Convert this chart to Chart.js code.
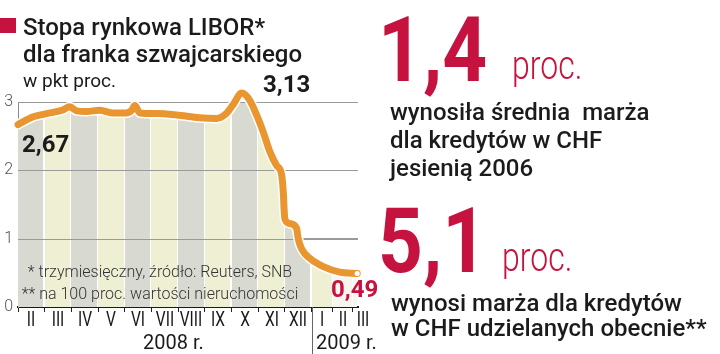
<!DOCTYPE html>
<html>
<head>
<meta charset="utf-8">
<script src="https://cdn.jsdelivr.net/npm/chart.js@4.4.1/dist/chart.umd.min.js"></script>
<style>
body{margin:0;background:#fff;}
#wrap{position:relative;width:720px;height:354px;overflow:hidden;font-family:Roboto,"Noto Sans",sans-serif;color:#1b1b1b;}
#wrap canvas{position:absolute;left:0;top:0;}
.t{position:absolute;white-space:pre;line-height:1;}
.red{color:#c5123e;}
.big{font-size:91px;font-weight:700;transform:scaleX(0.86);transform-origin:0 0;}
.pr{font-size:40px;font-weight:300;transform:scaleX(0.8);transform-origin:0 0;}
.m{font-size:24px;font-weight:500;}
.fn{font-size:16px;font-weight:300;color:#333;width:320px;text-align:center;left:0;}
.mo{top:309px;font-size:21px;color:#1a1a1a;transform:translateX(-50%) scaleX(0.74);}
</style>
</head>
<body>
<div id="wrap">
<canvas id="libor" width="380" height="354"></canvas>
<div id="months"></div>

<div style="position:absolute;left:0;top:18px;width:16px;height:15px;background:#c5123e"></div>
<div class="t m" style="left:23px;top:15px">Stopa rynkowa LIBOR*</div>
<div class="t m" style="left:23px;top:42px">dla franka szwajcarskiego</div>
<div class="t" style="left:23px;top:71px;font-size:19px">w pkt proc.</div>

<div class="t" style="left:263px;top:72px;font-size:24px;font-weight:700">3,13</div>
<div class="t" style="left:22px;top:132px;font-size:24px;font-weight:700">2,67</div>
<div class="t red" style="left:331px;top:277px;font-size:24px;font-weight:700">0,49</div>

<div class="t fn" style="top:264px">* trzymiesięczny, źródło: Reuters, SNB</div>
<div class="t fn" style="top:286px">** na 100 proc. wartości nieruchomości</div>

<div class="t" id="y1" style="left:143px;top:332px;font-size:20px"></div>
<div class="t" id="y2" style="left:316px;top:332px;font-size:20px"></div>

<div class="t red big" style="left:378px;top:5px">1,4</div>
<div class="t red pr" style="left:512px;top:46px">proc.</div>
<div class="t m" style="left:390px;top:100px">wynosiła średnia  marża</div>
<div class="t m" style="left:390px;top:128px">dla kredytów w CHF</div>
<div class="t m" style="left:390px;top:156px">jesienią 2006</div>

<div class="t red big" style="left:378px;top:196px">5,1</div>
<div class="t red pr" style="left:502px;top:238px">proc.</div>
<div class="t m" style="left:391px;top:291px">wynosi marża dla kredytów</div>
<div class="t m" style="left:391px;top:316px">w CHF udzielanych obecnie**</div>
</div>

<script>
// months counted from 1 Feb 2008
var monthLabels = ['II','III','IV','V','VI','VII','VIII','IX','X','XI','XII','I','II','III'];
var monthEdges = [0,1,2,3,4,5,6,7,8,9,10,11,11.8,12.55,13.3];
var yearLabels = ['2008 r.','2009 r.'];
var yTicks = [0,1,2,3];

var liborX = [0,0.55,1.2,1.65,1.94,2.2,2.56,3.06,3.56,4.06,4.26,4.38,4.56,5.2,5.94,6.8,7.44,7.8,8.06,8.38,8.69,8.94,9.19,9.44,9.69,9.88,9.94,9.97,10.0,10.19,10.44,10.5,10.63,10.94,11.44,12.06,12.71];
var liborY = [2.67,2.78,2.84,2.88,2.93,2.87,2.86,2.88,2.84,2.84,2.88,2.95,2.84,2.83,2.81,2.77,2.76,2.83,2.96,3.13,3.02,2.81,2.56,2.27,2.07,1.93,1.68,1.44,1.29,1.22,1.15,1.00,0.85,0.71,0.59,0.51,0.49];

document.getElementById('y1').textContent = yearLabels[0];
document.getElementById('y2').textContent = yearLabels[1];

var pts = liborX.map(function(x, i){ return {x: x, y: liborY[i]}; });

function bandColor(i){
  if (i >= 12) return '#f6f6ef';
  return i % 2 === 0 ? '#d8d9d1' : '#eff0d3';
}

function bandFill(context){
  var chart = context.chart;
  var area = chart.chartArea;
  if (!area) return 'rgba(0,0,0,0)';
  var xs = chart.scales.x;
  var w = area.right - area.left;
  var g = chart.ctx.createLinearGradient(area.left, 0, area.right, 0);
  var f = function(v){ return Math.min(1, Math.max(0, (xs.getPixelForValue(v) - area.left) / w)); };
  for (var i = 0; i < monthEdges.length - 1; i++) {
    var a = f(monthEdges[i]), b = f(monthEdges[i+1]);
    var c = bandColor(i);
    var e = Math.max(a, b - 1.2 / w);
    g.addColorStop(a, c);
    g.addColorStop(e, c);
    if (b < 1) { g.addColorStop(e, '#ffffff'); g.addColorStop(b, '#ffffff'); }
  }
  return g;
}

// roman month names sit between the tick marks; narrow face, so they go in as html
function placeMonths(chart){
  var xs = chart.scales.x, box = document.getElementById('months');
  box.innerHTML = '';
  monthLabels.forEach(function(l, i){
    var d = document.createElement('div');
    d.className = 't mo';
    d.textContent = l;
    d.style.left = xs.getPixelForValue((monthEdges[i] + monthEdges[i+1]) / 2) + 'px';
    box.appendChild(d);
  });
}

var overFill = {
  id: 'overFill',
  beforeDatasetsDraw: function(chart){
    var ctx = chart.ctx, a = chart.chartArea, y = chart.scales.y;
    ctx.save();
    ctx.strokeStyle = '#9a9a9a';
    ctx.lineWidth = 1;
    y.ticks.forEach(function(t){
      if (t.value === 0) return;
      var py = Math.round(y.getPixelForValue(t.value)) + 0.5;
      ctx.beginPath(); ctx.moveTo(a.left, py); ctx.lineTo(a.right, py); ctx.stroke();
    });
    ctx.restore();
  },
  afterDraw: function(chart){
    var ctx = chart.ctx, a = chart.chartArea;
    var px = Math.round(chart.scales.x.getPixelForValue(monthEdges[11])) + 0.5;
    ctx.save();
    ctx.strokeStyle = '#666';
    ctx.lineWidth = 1;
    ctx.beginPath(); ctx.moveTo(px, a.bottom); ctx.lineTo(px, chart.height); ctx.stroke();
    ctx.restore();
    placeMonths(chart);
  }
};

var ctx = document.getElementById('libor').getContext('2d');
var chart = new Chart(ctx, {
  type: 'line',
  data: {
    datasets: [{
      data: pts,
      borderColor: '#e99530',
      borderWidth: 7,
      borderCapStyle: 'round',
      borderJoinStyle: 'round',
      cubicInterpolationMode: 'monotone',
      fill: false,
      clip: false,
      pointRadius: function(c){ return c.dataIndex === pts.length - 1 ? 2.6 : 0; },
      pointBackgroundColor: '#ffffff',
      pointBorderWidth: 0,
      pointHoverRadius: 0
    }, {
      data: pts,
      borderColor: '#ffffff',
      borderWidth: 10,
      borderCapStyle: 'round',
      borderJoinStyle: 'round',
      cubicInterpolationMode: 'monotone',
      fill: 'origin',
      backgroundColor: bandFill,
      clip: false,
      pointRadius: 0
    }]
  },
  options: {
    responsive: false,
    animation: false,
    devicePixelRatio: 1,
    layout: { padding: { top: 102, right: 22, left: 0, bottom: 0 } },
    plugins: {
      legend: { display: false },
      tooltip: { enabled: false },
      filler: { drawTime: 'beforeDatasetsDraw' }
    },
    scales: {
      x: {
        type: 'linear',
        min: 0,
        max: 12.74,
        afterBuildTicks: function(s){
          s.ticks = monthEdges.slice(0, 14).map(function(v){ return {value: v}; });
        },
        afterFit: function(s){ s.height = 47; },
        grid: {
          drawOnChartArea: false,
          drawTicks: true,
          tickLength: 5,
          tickWidth: 1,
          tickColor: '#222'
        },
        border: { color: '#1a1a1a', width: 2 },
        ticks: {
          autoSkip: false,
          maxRotation: 0,
          minRotation: 0,
          callback: function(){ return ''; }
        }
      },
      y: {
        min: 0,
        max: 3,
        afterBuildTicks: function(s){ s.ticks = yTicks.map(function(v){ return {value: v}; }); },
        afterFit: function(s){ s.width = 18; },
        grid: { color: '#9a9a9a', drawTicks: false },
        border: { color: '#8a8a8a', width: 1 },
        ticks: {
          padding: 5,
          color: '#555',
          font: { family: 'Roboto', size: 16, weight: '300' }
        }
      }
    }
  },
  plugins: [overFill]
});
</script>
</body>
</html>
